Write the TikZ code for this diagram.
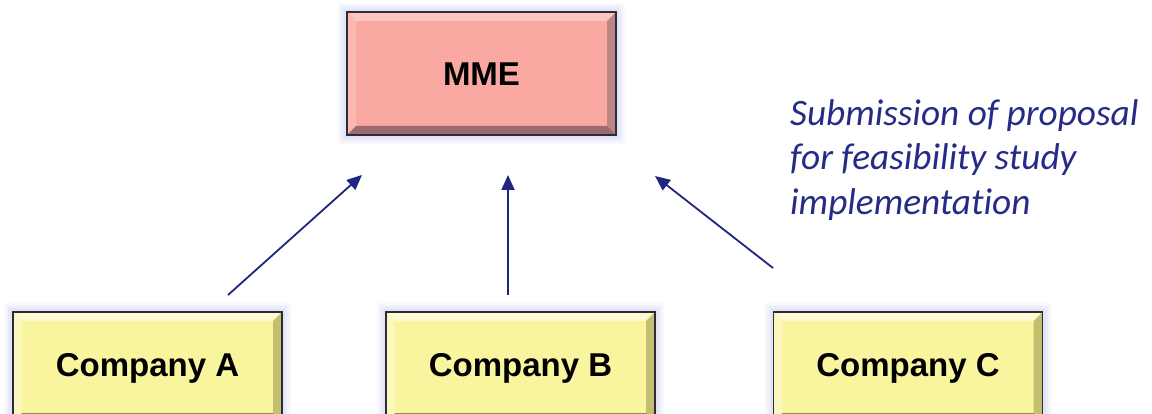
\documentclass[tikz,border=0pt]{standalone}
\usepackage{fontspec}
\setmainfont{Liberation Sans}
\newfontfamily\notefont[Ligatures={NoCommon}]{Carlito}
\usetikzlibrary{arrows.meta,calc}

\definecolor{navy}{HTML}{1F2680}
\definecolor{notecol}{HTML}{262C86}
\definecolor{mmefill}{HTML}{F9A9A1}
\definecolor{mmelight}{HTML}{FBC6BF}
\definecolor{mmedark}{HTML}{9A6A6C}
\definecolor{mmeside}{HTML}{B98784}
\definecolor{coyfill}{HTML}{F9F59E}
\definecolor{coylight}{HTML}{FCFAD0}
\definecolor{coydark}{HTML}{8E8A4E}
\definecolor{coyside}{HTML}{C3BF6E}
\definecolor{edgecol}{HTML}{2E2A3C}
\definecolor{glowcol}{HTML}{C9CDF2}

\tikzset{
  x=1pt, y=-1pt,
  boxbase/.style={minimum width=269pt, inner sep=0pt, outer sep=0pt,
    font=\fontsize{33}{36}\selectfont\bfseries,
    text height=23.6pt, text depth=0pt},
  mmebox/.style={boxbase, minimum height=123pt},
  coybox/.style={boxbase, minimum height=110pt},
  arr/.style={draw=navy, line width=1.8pt,
    -{Triangle[length=15pt,width=13pt]}},
  note/.style={text=notecol, align=left, anchor=north west, inner sep=0pt,
    font=\notefont\itshape\fontsize{37.3}{44.5}\selectfont}
}

% soft halo, then a bevelled face with a dark rim
\newcommand{\haloat}[1]{%
  \foreach \g/\o in {9/0.10,7/0.14,5/0.18,3/0.22}{
    \fill[glowcol, opacity=\o]
      ($(#1.north west)+(-\g,-\g)$) rectangle ($(#1.south east)+(\g,\g)$);
  }}
\newcommand{\bevelat}[5]{% node, face, light, side, dark
  \fill[#2] (#1.north west) rectangle (#1.south east);
  \fill[#3] (#1.north west) -- (#1.north east)
    -- ($(#1.north east)+(-9,9)$) -- ($(#1.north west)+(9,9)$) -- cycle;
  \fill[#3!60!#2] (#1.north west) -- ($(#1.north west)+(9,9)$)
    -- ($(#1.south west)+(9,-9)$) -- (#1.south west) -- cycle;
  \fill[#4] (#1.north east) -- (#1.south east)
    -- ($(#1.south east)+(-9,-9)$) -- ($(#1.north east)+(-9,9)$) -- cycle;
  \fill[#5] (#1.south west) -- (#1.south east)
    -- ($(#1.south east)+(-9,-9)$) -- ($(#1.south west)+(9,-9)$) -- cycle;
  \draw[edgecol, line width=1.4pt] (#1.north west) rectangle (#1.south east);
}

\begin{document}
\begin{tikzpicture}
\useasboundingbox[fill=white] (0,0) rectangle (1152,414);

% node geometry (faces drawn on a lower layer below)
\path (481.5,73.5) node[mmebox] (mme) {\phantom{MME}};
\path (147.5,367) node[coybox] (ca) {\phantom{Company A}};
\path (520.5,367) node[coybox] (cb) {\phantom{Company B}};
\path (908,367)   node[coybox] (cc) {\phantom{Company C}};

\haloat{mme}\haloat{ca}\haloat{cb}\haloat{cc}
\bevelat{mme}{mmefill}{mmelight}{mmeside}{mmedark}
\bevelat{ca}{coyfill}{coylight}{coyside}{coydark}
\bevelat{cb}{coyfill}{coylight}{coyside}{coydark}
\bevelat{cc}{coyfill}{coylight}{coyside}{coydark}

% labels on top of the faces
\node[mmebox] at (mme.center) {MME};
\node[coybox] at ($(ca.center)+(0,-2)$) {Company A};
\node[coybox] at ($(cb.center)+(0,-2)$) {Company B};
\node[coybox] at ($(cc.center)+(0,-2)$) {Company C};

% free ends of the connectors
\coordinate (a0) at ($(ca.north)+(80.5,-17)$);
\coordinate (a1) at ($(mme.south)+(-119.5,40)$);
\coordinate (b0) at ($(cb.north)+(-12.5,-17)$);
\coordinate (b1) at ($(mme.south)+(26.5,40)$);
\coordinate (c0) at ($(cc.north)+(-135,-44)$);
\coordinate (c1) at ($(mme.south)+(173.5,41)$);

\draw[arr] (a0) -- (a1);
\draw[arr] (b0) -- (b1);
\draw[arr] (c0) -- (c1);

\node[note] (txt) at (790,99) {Submission of proposal\\for feasibility study\\implementation};
\end{tikzpicture}
\end{document}
